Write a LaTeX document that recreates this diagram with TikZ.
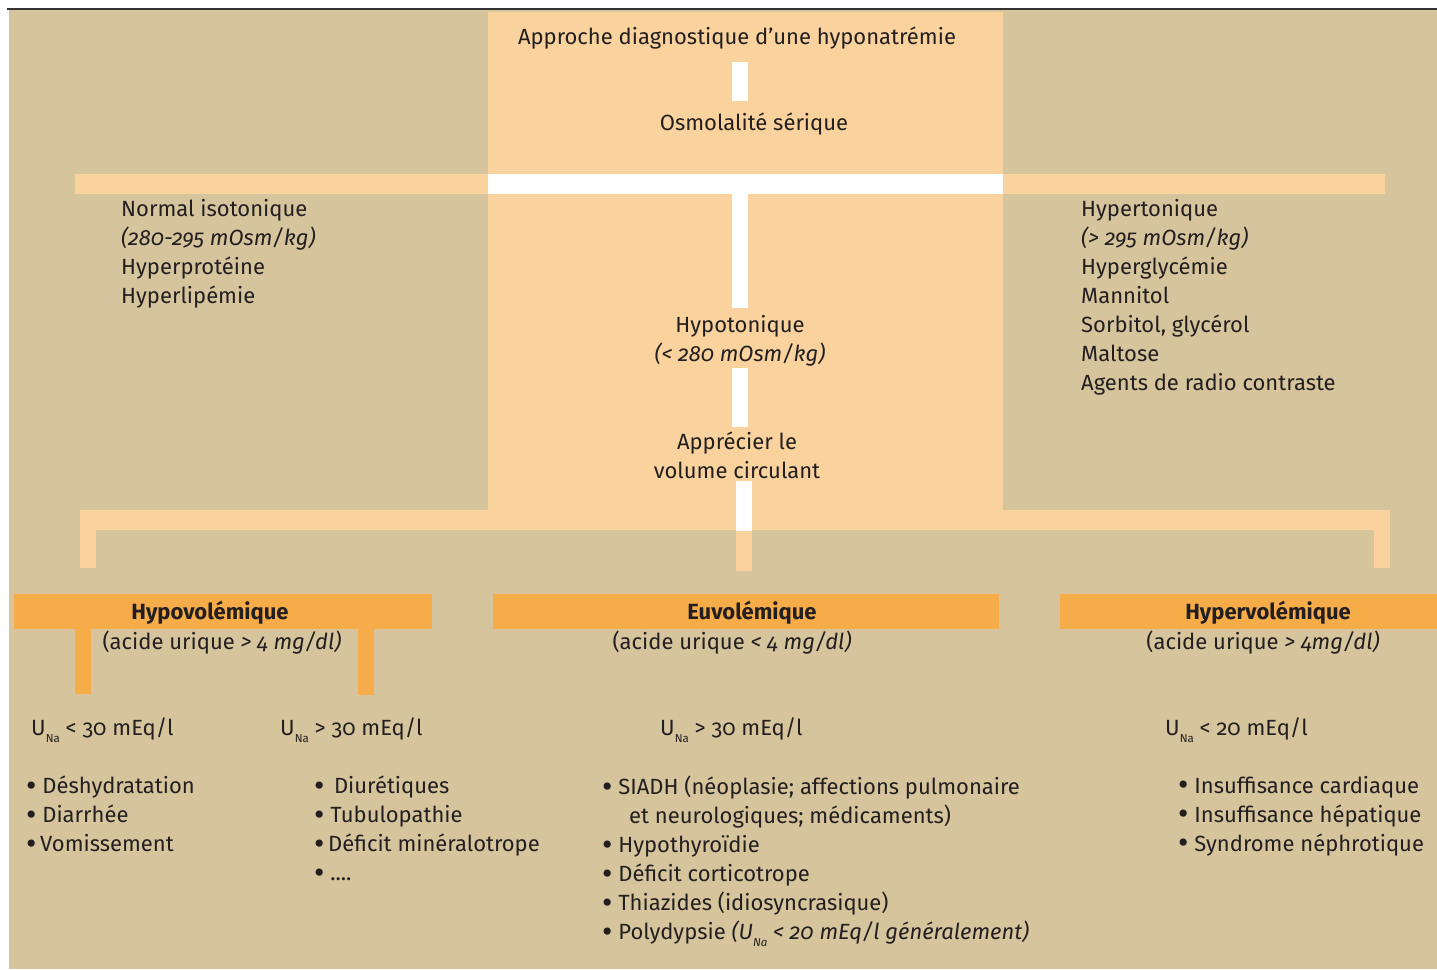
\documentclass[tikz,border=0pt]{standalone}
\usepackage{fontspec}
\setmainfont{Fira Sans}[Numbers=OldStyle]

\definecolor{beige}{HTML}{D5C49C}
\definecolor{pale}{HTML}{F9D29D}
\definecolor{orng}{HTML}{F6AC49}
\definecolor{ink}{HTML}{231F20}
\newcommand{\una}{U\raisebox{-7pt}{\fontsize{11.5}{11.5}\selectfont Na}}
\newcommand{\bul}{\raisebox{-2.2pt}{\scalebox{1.45}{•}}}

\tikzset{
  txt/.style={inner sep=0pt, text=ink, font=\fontsize{22}{29}\selectfont},
  oneline/.style={txt, text height=15pt, text depth=5pt},
  head/.style={oneline, font=\fontsize{22}{29}\selectfont\bfseries},
  block/.style={txt, align=left, anchor=north west},
  wbar/.style={draw=white, line width=16pt},
  wband/.style={draw=white, line width=20pt},
  lbar/.style={draw=pale, line width=16pt},
  lband/.style={draw=pale, line width=20pt},
  obar/.style={fill=orng, inner sep=0pt, minimum height=35pt},
  ostem/.style={draw=orng, line width=16pt},
}

\begin{document}
\begin{tikzpicture}[x=1pt, y=-1pt]
\useasboundingbox (0,0) rectangle (1437,969);
\fill[white] (0,0) rectangle (1437,969);
\fill[beige] (9,10) rectangle (1437,969); % panel
\draw[line width=2pt, black!80] (7,9) -- (1437,9); % top rule

% central column
\node[fill=pale, inner sep=0pt, minimum width=515pt, minimum height=498pt] (col) at (745.5,261) {};

\coordinate (spine) at (740,184);
\coordinate (bandL) at (75,184);
\coordinate (bandR) at (1385,184);
\coordinate (fork) at (744,520);
\coordinate (forkL) at (88,520);
\coordinate (forkR) at (1382,520);

% orange bars
\node[obar, minimum width=418pt] (hypobar) at (223,611.5) {};
\node[obar, minimum width=506pt] (euvbar) at (746,611.5) {};
\node[obar, minimum width=377pt] (hyperbar) at (1248.5,611.5) {};

% texts
\node[oneline] (title) at (737,39.5) {Approche diagnostique d’une hyponatrémie};
\node[oneline] (osmo) at (754,125.5) {Osmolalité sérique};
\node[block] (iso) at (121,199.5) {Normal isotonique\\\textit{(280-295 mOsm/kg)}\\Hyperprotéine\\Hyperlipémie};
\node[block] (hyperton) at (1081,199.5) {Hypertonique\\\textit{(> 295 mOsm/kg)}\\Hyperglycémie\\Mannitol\\Sorbitol, glycérol\\Maltose\\Agents de radio contraste};
\node[txt, align=center] (hypo) at (740,340.5) {Hypotonique\\\textit{(< 280 mOsm/kg)}};
\node[txt, align=center] (vol) at (737,455.5) {Apprécier le\\volume circulant};

\node[head] (hypovol) at (210,614) {Hypovolémique};
\node[oneline] (hypovolsub) at (222,644) {(acide urique \textit{> 4 mg/dl)}};
\node[head] (euvol) at (752,614) {Euvolémique};
\node[oneline] (euvolsub) at (732,644) {(acide urique \textit{< 4 mg/dl)}};
\node[head] (hypervol) at (1268,614) {Hypervolémique};
\node[oneline] (hypervolsub) at (1263,644) {(acide urique \textit{> 4mg/dl)}};

\node[oneline, anchor=west] (unaA) at (31,730) {\una{} < 30 mEq/l};
\node[oneline, anchor=west] (unaB) at (280,730) {\una{} > 30 mEq/l};
\node[oneline, anchor=west] (unaC) at (660,730) {\una{} > 30 mEq/l};
\node[oneline, anchor=west] (unaD) at (1165,730) {\una{} < 20 mEq/l};

\node[block] (listA) at (26,776) {\bul{} Déshydratation\\\bul{} Diarrhée\\\bul\,Vomissement};
\node[block] (listB) at (314,776) {\bul{} \,Diurétiques\\\bul{} Tubulopathie\\\bul\,Déficit minéralotrope\\\bul{} ....};
\node[block] (listC) at (602,776) {\bul{} SIADH (néoplasie; affections pulmonaire\\\hspace*{27pt}et neurologiques; médicaments)\\\bul{} Hypothyroïdie\\\bul{} Déficit corticotrope\\\bul{} Thiazides (idiosyncrasique)\\\bul{} Polydypsie \textit{(\una{} < 20 mEq/l généralement)}};
\node[block] (listD) at (1178,776) {\bul{} Insuffisance cardiaque\\\bul{} Insuffisance hépatique\\\bul{} Syndrome néphrotique};

% connectors
\draw[wbar, shorten <=12pt, shorten >=14pt] (title.south -| spine) -- (osmo.north -| spine);
\draw[lband] (bandL) -- (bandR);
\draw[wband] (col.west |- spine) -- (col.east |- spine);
\draw[wbar] (spine) -- ([yshift=7pt]hypo.north -| spine);
\draw[wbar] ([yshift=-2pt]hypo.south -| spine) -- ([yshift=5pt]vol.north -| spine);
\draw[lband] ([xshift=-8pt]forkL) -- ([xshift=8pt]forkR);
\draw[lbar, shorten <=-10pt, shorten >=26pt] (forkL) -- (forkL |- hypobar.north);
\draw[lbar, shorten <=-10pt, shorten >=26pt] (forkR) -- (forkR |- hyperbar.north);
\draw[wbar] ([yshift=-2pt]vol.south -| fork) -- ([yshift=-11pt]fork);
\draw[lbar, shorten >=23pt] ([yshift=-11pt]fork) -- (fork |- euvbar.north);
\draw[ostem] ([xshift=69pt]hypobar.south west) -- ++(0,65);
\draw[ostem] ([xshift=352pt]hypobar.south west) -- ++(0,66);
\end{tikzpicture}
\end{document}
